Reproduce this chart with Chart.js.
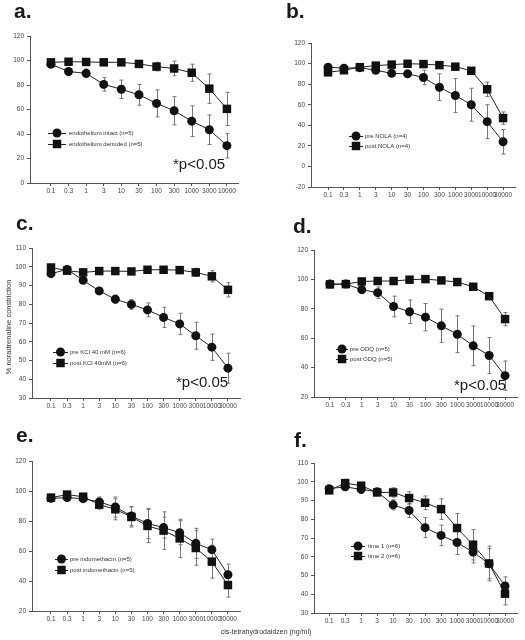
<!DOCTYPE html>
<html><head><meta charset="utf-8">
<script src="https://cdn.jsdelivr.net/npm/chart.js@4.4.1/dist/chart.umd.min.js"></script>
<style>
html,body{margin:0;padding:0;background:#fff;width:525px;height:640px;overflow:hidden;}
#wrap{position:relative;width:525px;height:640px;}
canvas{position:absolute;}
#xt{position:absolute;left:0;width:532px;top:628px;text-align:center;font:7px "Liberation Sans",Arial,sans-serif;color:#333;}
</style></head><body>
<div id="wrap">
<canvas id="ca" width="262" height="200" style="left:0;top:0"></canvas>
<canvas id="cb" width="263" height="200" style="left:262px;top:0"></canvas>
<canvas id="cc" width="262" height="210" style="left:0;top:200px"></canvas>
<canvas id="cd" width="263" height="210" style="left:262px;top:200px"></canvas>
<canvas id="ce" width="262" height="220" style="left:0;top:410px"></canvas>
<canvas id="cf" width="263" height="220" style="left:262px;top:410px"></canvas>
<div id="xt">cis-tetrahydrodaidzen (ng/ml)</div>
</div>
<script>
// ---- data ----
const concA = ['0.1','0.3','1','3','10','30','100','300','1000','3000','10000'];
const concB = ['0.1','0.3','1','3','10','30','100','300','1000','3000','10000','30000'];

const intactA     = [97, 91, 89.5, 80.5, 76.5, 72, 65, 59, 50.5, 43.5, 30.5];
const intactAErr  = [1, 2, 3.5, 5.5, 7.5, 8.5, 11, 11.5, 12.5, 12, 10];
const denudedA    = [98.5, 99, 98.8, 98.5, 98.5, 97.2, 95, 93.5, 90, 77, 60.5];
const denudedAErr = [1, 1, 1, 1, 1.5, 2, 3.5, 6, 7, 12, 13.5];

const preNola     = [96.5, 95.5, 96, 93.5, 90.5, 90, 86.5, 77, 69, 60, 43.5, 24];
const preNolaErr  = [1, 1, 1, 1.5, 1.5, 2, 7, 13, 16.5, 16, 16.5, 12];
const postNola    = [91.5, 93.5, 96.5, 98, 99, 99.8, 99.5, 98.5, 97, 93, 75, 47];
const postNolaErr = [1, 1, 1, 1, 1, 2, 1, 1, 1, 1.5, 7, 6];

const preKcl      = [96.3, 98.6, 92.8, 87.1, 82.7, 79.9, 77, 73, 69.5, 63.2, 57.1, 45.9];
const preKclErr   = [1, 1, 1.2, 1.2, 2.2, 2.6, 3.7, 5.4, 5.7, 7.2, 7, 8];
const postKcl     = [99.6, 97.9, 97, 97.7, 97.7, 97.5, 98.4, 98.4, 98.2, 97, 94.9, 87.7];
const postKclErr  = [0.8, 0.8, 0.8, 0.8, 0.8, 0.8, 0.8, 0.8, 1, 2.2, 3, 3.8];

const preOdq      = [96.8, 96.8, 93, 91, 81.6, 78, 74.3, 68.4, 62.7, 54.8, 48.2, 34.5];
const preOdqErr   = [1, 1, 2.6, 3.9, 7, 8, 9.3, 11.4, 12.5, 13.5, 12.3, 10];
const postOdq     = [96.6, 96.8, 98.6, 98.9, 98.9, 99.8, 100.2, 99.3, 98.2, 95, 88.6, 73];
const postOdqErr  = [1, 1, 1, 1, 1, 1, 1, 1, 1, 1, 1, 4.5];

const preIndo     = [95.1, 95.6, 94.9, 92.7, 89.3, 83.3, 78.4, 75.6, 72.2, 65.1, 60.9, 44.2];
const preIndoErr  = [1.5, 2, 1.5, 3.3, 6.7, 6.4, 10, 7, 8, 10, 7, 7];
const postIndo    = [95.6, 97.6, 96.2, 90.9, 87.8, 82.7, 76.7, 73.6, 68.4, 62, 52.9, 37.3];
const postIndoErr = [1.5, 1.5, 1.5, 3, 7, 6.7, 11, 12.5, 12.8, 11.5, 11, 8];

const time1       = [96.3, 97.3, 95.9, 94.7, 87.7, 84.7, 75.5, 71.4, 67.6, 62.5, 56.3, 44.4];
const time1Err    = [1, 1, 2.2, 1.5, 2.7, 3.7, 5.3, 5.5, 6.4, 5.8, 8, 4.9];
const time2       = [95.4, 99.3, 97.9, 94.3, 94.3, 91.3, 88.8, 85.4, 75.3, 66.4, 56.4, 40.3];
const time2Err    = [1, 1, 1, 1.5, 2.5, 3.3, 3.6, 5.5, 7.8, 8.1, 9.3, 6];

// ---- drawing helpers ----
const FONT = '"Liberation Sans", Arial, sans-serif';
const YW = 24, XH = 12;

function marker(ctx, style, x, y, r) {
  ctx.beginPath();
  if (style === 'circle') ctx.arc(x, y, r, 0, Math.PI * 2);
  else { const s = r * Math.SQRT1_2; ctx.rect(x - s, y - s, 2 * s, 2 * s); }
  ctx.fill();
}

const errPlugin = {
  id: 'errbars',
  beforeDatasetsDraw(chart) {
    const { ctx, scales: { x, y } } = chart;
    ctx.save();
    ctx.strokeStyle = '#777'; ctx.lineWidth = 1;
    chart.data.datasets.forEach(ds => {
      if (!ds.err) return;
      ds.data.forEach((p, i) => {
        const e = ds.err[i]; if (!e) return;
        const px = Math.round(x.getPixelForValue(p.x)) + 0.5;
        const y1 = y.getPixelForValue(p.y + e), y2 = y.getPixelForValue(p.y - e);
        ctx.beginPath();
        ctx.moveTo(px, y1); ctx.lineTo(px, y2);
        ctx.moveTo(px - 2, y1); ctx.lineTo(px + 2, y1);
        ctx.moveTo(px - 2, y2); ctx.lineTo(px + 2, y2);
        ctx.stroke();
      });
    });
    ctx.restore();
  }
};

const decoPlugin = {
  id: 'deco',
  afterDraw(chart, args, o) {
    const ctx = chart.ctx;
    ctx.save();
    ctx.fillStyle = '#1a1a1a';
    // panel letter
    ctx.font = 'bold 21px ' + FONT;
    ctx.textBaseline = 'alphabetic'; ctx.textAlign = 'left';
    ctx.fillText(o.letter, o.lx, o.ly);
    // legend
    const lg = o.lg;
    chart.data.datasets.forEach((ds, i) => {
      const yy = lg.y + i * lg.dy;
      ctx.strokeStyle = '#222'; ctx.lineWidth = 1;
      ctx.beginPath(); ctx.moveTo(lg.x0, yy + 0.5); ctx.lineTo(lg.x1, yy + 0.5); ctx.stroke();
      ctx.fillStyle = '#111';
      marker(ctx, ds.pointStyle, (lg.x0 + lg.x1) / 2, yy, ds.pointRadius);
      ctx.fillStyle = '#333';
      ctx.font = '6px ' + FONT; ctx.textBaseline = 'middle';
      ctx.fillText(ds.label, lg.tx, yy);
    });
    // p note
    if (o.note) {
      ctx.fillStyle = '#1a1a1a';
      ctx.font = '15px ' + FONT; ctx.textBaseline = 'middle';
      ctx.fillText('*p<0.05', o.note[0], o.note[1]);
    }
    if (o.ytitle) {
      ctx.save();
      ctx.translate(o.ytitle[0], o.ytitle[1]);
      ctx.rotate(-Math.PI / 2);
      ctx.fillStyle = '#333';
      ctx.font = '7.5px ' + FONT; ctx.textAlign = 'center'; ctx.textBaseline = 'middle';
      ctx.fillText('% noradrenaline constriction', 0, 0);
      ctx.restore();
    }
    ctx.restore();
  }
};

function panel(id, box, area, cats, series, yr, xr, deco) {
  const cv = document.getElementById(id);
  const ds = series.map(s => ({
    label: s.label,
    data: s.vals.map((v, i) => ({ x: i, y: v })),
    err: s.err,
    borderColor: '#222', borderWidth: 1,
    backgroundColor: '#111', pointBackgroundColor: '#111', pointBorderColor: '#111',
    pointStyle: s.style, pointRadius: s.style === 'circle' ? 4.5 : 6, pointBorderWidth: 0,
    tension: 0, fill: false
  }));
  const axisCommon = {
    grid: { drawOnChartArea: false, tickLength: 3, color: '#555' },
    border: { color: '#555', width: 1 }
  };
  // translate absolute positions to canvas coords
  const d = {
    letter: deco.letter, lx: deco.l[0] - box.left, ly: deco.l[1] - box.top,
    lg: { x0: deco.lg[0] - box.left, x1: deco.lg[1] - box.left, tx: deco.lg[2] - box.left, y: deco.lg[3] - box.top, dy: deco.lg[4] },
    note: deco.note ? [deco.note[0] - box.left, deco.note[1] - box.top] : null,
    ytitle: deco.yt ? [deco.yt[0] - box.left, deco.yt[1] - box.top] : null
  };
  new Chart(cv, {
    type: 'line',
    data: { datasets: ds },
    plugins: [errPlugin, decoPlugin],
    options: {
      responsive: false, animation: false,
      layout: { padding: { left: area.L - box.left - YW, right: box.left + box.w - area.R, top: area.T - box.top, bottom: box.top + box.h - area.B - XH } },
      plugins: { legend: { display: false }, tooltip: { enabled: false }, deco: d },
      scales: {
        x: Object.assign({
          type: 'linear', min: xr[0], max: xr[1],
          afterBuildTicks: ax => { ax.ticks = cats.map((c, i) => ({ value: i })); },
          afterFit: s => { s.height = XH; },
          ticks: { callback: v => cats[v], autoSkip: false, maxRotation: 0, minRotation: 0, font: { size: 6.5, family: FONT }, color: '#444', padding: 1 }
        }, axisCommon),
        y: Object.assign({
          type: 'linear', min: yr[0], max: yr[1],
          afterFit: s => { s.width = YW; },
          ticks: { stepSize: yr[2], font: { size: 6.5, family: FONT }, color: '#444', padding: 3 }
        }, axisCommon)
      }
    }
  });
}

const BA = { left: 0, top: 0, w: 262, h: 200 }, BB = { left: 262, top: 0, w: 263, h: 200 };
const BC = { left: 0, top: 200, w: 262, h: 210 }, BD = { left: 262, top: 200, w: 263, h: 210 };
const BE = { left: 0, top: 410, w: 262, h: 220 }, BF = { left: 262, top: 410, w: 263, h: 220 };

panel('ca', BA, { L: 30, R: 238, T: 36, B: 183 }, concA, [
  { label: 'endothelium intact (n=5)', vals: intactA, err: intactAErr, style: 'circle' },
  { label: 'endothelium denuded (n=5)', vals: denudedA, err: denudedAErr, style: 'rect' }
], [0, 120, 20], [-1.19, 10.63], { letter: 'a.', l: [14, 18], lg: [48, 66, 69, 133, 11], note: [173, 165] });

panel('cb', BB, { L: 311, R: 515, T: 43, B: 187 }, concB, [
  { label: 'pre NOLA (n=4)', vals: preNola, err: preNolaErr, style: 'circle' },
  { label: 'post NOLA (n=4)', vals: postNola, err: postNolaErr, style: 'rect' }
], [-20, 120, 20], [-1.07, 11.75], { letter: 'b.', l: [286, 18], lg: [349, 363, 365, 136, 10] });

panel('cc', BC, { L: 32, R: 240, T: 248, B: 398 }, concB, [
  { label: 'pre KCl 40 mM (n=6)', vals: preKcl, err: preKclErr, style: 'circle' },
  { label: 'post KCl 40mM (n=6)', vals: postKcl, err: postKclErr, style: 'rect' }
], [30, 110, 10], [-1.18, 11.75], { letter: 'c.', l: [16, 230], lg: [53, 68, 70, 352, 11], note: [176, 383], yt: [9, 327] });

panel('cd', BD, { L: 314, R: 517, T: 250, B: 397 }, concB, [
  { label: 'pre ODQ (n=5)', vals: preOdq, err: preOdqErr, style: 'circle' },
  { label: 'post ODQ (n=5)', vals: postOdq, err: postOdqErr, style: 'rect' }
], [20, 120, 20], [-1.0, 11.75], { letter: 'd.', l: [293, 233], lg: [336, 348, 350, 349, 10], note: [454, 386] });

panel('ce', BE, { L: 32, R: 240, T: 461, B: 611 }, concB, [
  { label: 'pre indomethacin (n=5)', vals: preIndo, err: preIndoErr, style: 'circle' },
  { label: 'post indomethacin (n=5)', vals: postIndo, err: postIndoErr, style: 'rect' }
], [20, 120, 20], [-1.18, 11.75], { letter: 'e.', l: [16, 442], lg: [55, 68, 70, 559, 11] });

panel('cf', BF, { L: 314, R: 517, T: 463, B: 613 }, concB, [
  { label: 'time 1 (n=6)', vals: time1, err: time1Err, style: 'circle' },
  { label: 'time 2 (n=6)', vals: time2, err: time2Err, style: 'rect' }
], [30, 110, 10], [-0.95, 11.75], { letter: 'f.', l: [294, 447], lg: [351, 365, 368, 546, 10] });
</script>
</body></html>
